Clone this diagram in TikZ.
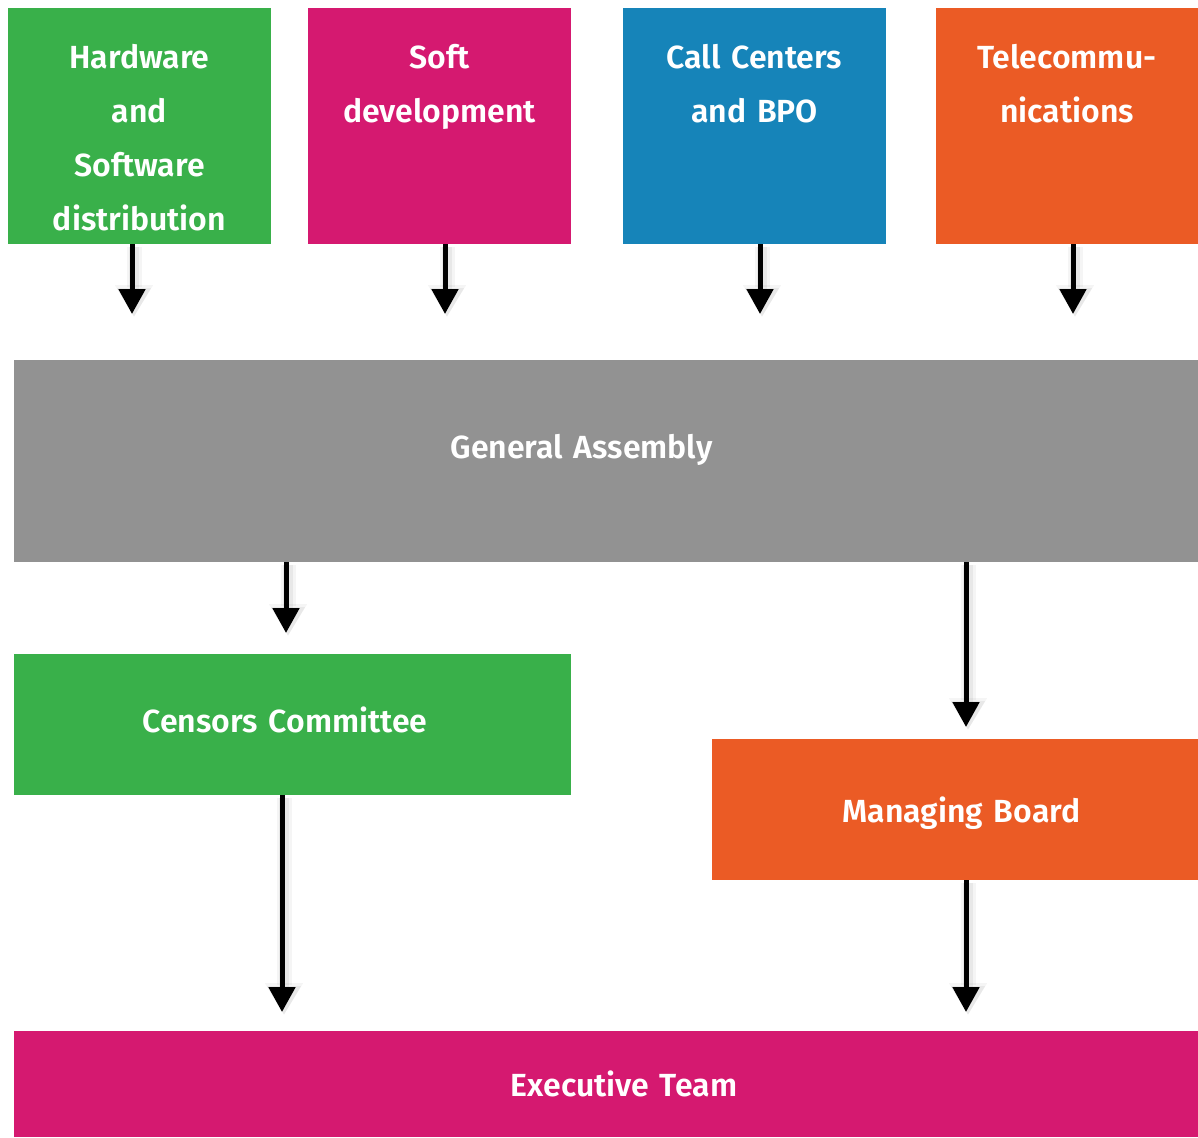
\documentclass[tikz,border=0pt]{standalone}
\usepackage{fontspec}
\setmainfont{Fira Sans SemiBold}
\usetikzlibrary{arrows.meta}

\definecolor{orggreen}{HTML}{39B04A}
\definecolor{orgpink}{HTML}{D51970}
\definecolor{orgblue}{HTML}{1684B9}
\definecolor{orgorange}{HTML}{EB5B25}
\definecolor{orggray}{HTML}{929292}

\tikzset{
  orgbox/.style={fill=#1, text=white, inner sep=0pt, align=center,
    font=\fontsize{32}{54}\selectfont},
  unitbox/.style={orgbox=#1, text width=263pt, text height=60pt, text depth=176pt, anchor=north},
  flow/.style={line width=5pt, -{Triangle[width=26pt,length=25pt]},
    preaction={draw=black, opacity=0.04, line width=15pt,
      -{Triangle[width=36pt,length=32pt]}, transform canvas={shift={(2pt,-3pt)}}},
    preaction={draw=black, opacity=0.05, line width=10pt,
      -{Triangle[width=32pt,length=29pt]}, transform canvas={shift={(2pt,-3pt)}}}}
}

\begin{document}
\begin{tikzpicture}[x=1pt,y=-1pt]
\useasboundingbox[fill=white] (0,0) rectangle (1198,1137);

% business units
\node[unitbox=orggreen] (hw) at (139.5,8) {Hardware\\and\\Software\\distribution};
\node[unitbox=orgpink] (sd) at (439.5,8) {Soft\\development};
\node[unitbox=orgblue] (cc) at (754.5,8) {Call Centers\\and BPO};
\node[unitbox=orgorange, text width=262pt] (tc) at (1067,8) {Telecommu-\\nications};

% governing bodies
\node[orgbox=orggray, text width=1184pt, text height=98pt, text depth=104pt, anchor=north] (ga) at (606,360) {General Assembly\hspace*{49pt}};
\node[orgbox=orggreen, text width=557pt, text height=78pt, text depth=63pt, anchor=north] (cens) at (292.5,654) {Censors Committee\hspace*{15pt}};
\node[orgbox=orgorange, text width=486pt, text height=83pt, text depth=58pt, anchor=north] (mb) at (955,739) {\hspace*{13pt}Managing Board};
\node[orgbox=orgpink, text width=1184pt, text height=65pt, text depth=41pt, anchor=north] (et) at (606,1031) {\hspace*{36pt}Executive Team};

% arrows
\draw[flow,shorten >=46pt] ([xshift=-7.5pt]hw.south) -- ([xshift=-7.5pt]hw.south |- ga.north);
\draw[flow,shorten >=46pt] ([xshift=5.5pt]sd.south) -- ([xshift=5.5pt]sd.south |- ga.north);
\draw[flow,shorten >=46pt] ([xshift=5.5pt]cc.south) -- ([xshift=5.5pt]cc.south |- ga.north);
\draw[flow,shorten >=46pt] ([xshift=6pt]tc.south) -- ([xshift=6pt]tc.south |- ga.north);

\draw[flow,shorten >=21pt] ([xshift=-6.5pt]cens.north |- ga.south) -- ([xshift=-6.5pt]cens.north);
\draw[flow,shorten >=12pt] ([xshift=11pt]mb.north |- ga.south) -- ([xshift=11pt]mb.north);
\draw[flow,shorten >=19pt] ([xshift=-10.5pt]cens.south) -- ([xshift=-10.5pt]cens.south |- et.north);
\draw[flow,shorten >=19pt] ([xshift=11pt]mb.south) -- ([xshift=11pt]mb.south |- et.north);
\end{tikzpicture}
\end{document}
